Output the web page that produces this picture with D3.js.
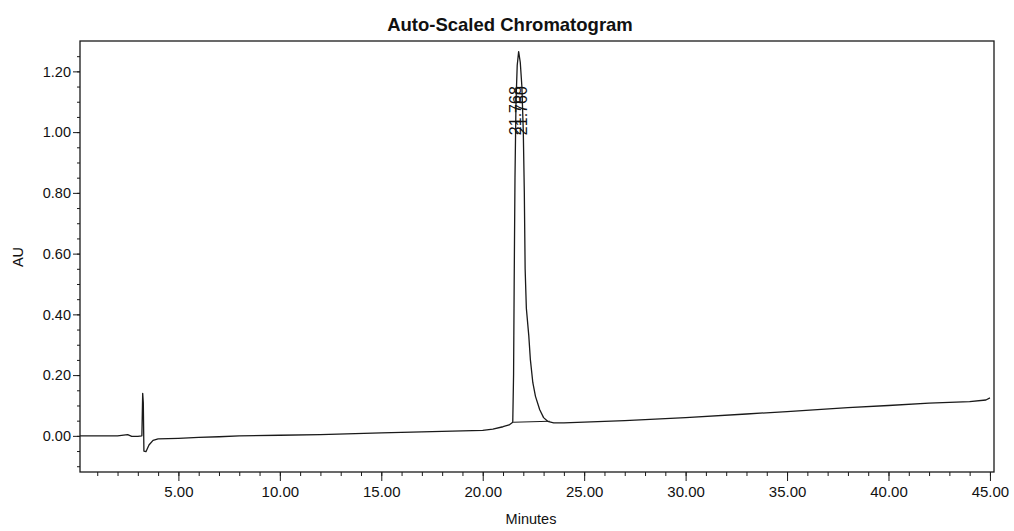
<!DOCTYPE html>
<html>
<head>
<meta charset="utf-8">
<script src="https://cdn.jsdelivr.net/npm/d3@7"></script>
<style>
  html, body { margin: 0; padding: 0; background: #fff; }
  svg { display: block; }
  text { font-family: "Liberation Sans", Arial, sans-serif; fill: #111; }
</style>
</head>
<body>
<svg id="chart" width="1014" height="531"></svg>
<script>
// ---- data ----
const title = "Auto-Scaled Chromatogram";
const xLabel = "Minutes";
const yLabel = "AU";
const xTickValues = [5, 10, 15, 20, 25, 30, 35, 40, 45];
const yTickValues = [0, 0.2, 0.4, 0.6, 0.8, 1.0, 1.2];
const timeMin = [0.15, 1.0, 2.0, 2.5, 2.7, 3.0, 3.2, 3.24, 3.27, 3.30, 3.40, 3.55, 3.75, 4.0, 5.0, 6.0, 7.0, 8.0, 10.0, 12.0, 15.0, 18.0, 20.0, 20.5, 21.0, 21.3, 21.48,
  21.52, 21.55, 21.59, 21.64, 21.70, 21.77, 21.85, 21.93, 22.0, 22.05, 22.09, 22.15, 22.27, 22.35, 22.47, 22.6, 22.81, 23.0, 23.2, 23.5, 24.0, 25.0,
  27.0, 30.0, 33.0, 35.0, 38.0, 40.0, 42.0, 44.0, 44.8, 45.0];
const absorbance = [0.000, 0.000, 0.000, 0.004, -0.002, -0.002, 0.000, 0.140, 0.110, -0.050, -0.052, -0.030, -0.015, -0.010, -0.008, -0.005, -0.003, 0.000, 0.002, 0.004, 0.010, 0.015, 0.018, 0.022, 0.030, 0.036, 0.045,
  0.20, 0.50, 0.85, 1.10, 1.22, 1.265, 1.23, 1.15, 1.00, 0.80, 0.55, 0.42, 0.33, 0.25, 0.175, 0.13, 0.086, 0.060, 0.048, 0.043, 0.043, 0.045,
  0.050, 0.060, 0.072, 0.080, 0.093, 0.100, 0.108, 0.113, 0.118, 0.125];
const peakNames = ["21.768", "21.760"];
const peakTimes = [21.70, 21.98];
const integStart = [21.50, 0.045];
const integEnd = [23.30, 0.048];

// ---- layout ----
const svg = d3.select("#chart");
const x = d3.scaleLinear().domain([0.15, 45.2]).range([80, 994]);
const y = d3.scaleLinear().domain([-0.119, 1.30]).range([472, 41]);
const ink = "#1a1a1a";

// frame
svg.append("rect")
  .attr("x", x.range()[0]).attr("y", y.range()[1])
  .attr("width", x.range()[1] - x.range()[0])
  .attr("height", y.range()[0] - y.range()[1])
  .attr("fill", "none").attr("stroke", ink).attr("stroke-width", 1.3);

// x axis
const xAxisG = svg.append("g").attr("transform", `translate(0,${y.range()[0]})`);
xAxisG.call(d3.axisBottom(x).tickValues(d3.range(1, 46, 1)).tickSize(4).tickFormat(""))
  .call(g => g.select(".domain").remove());
xAxisG.call(g => g.selectAll(".tick line").attr("stroke", ink));
const xMajor = svg.append("g").attr("transform", `translate(0,${y.range()[0]})`)
  .call(d3.axisBottom(x).tickValues(xTickValues).tickSize(9).tickPadding(5).tickFormat(d3.format(".2f")));
xMajor.select(".domain").remove();
xMajor.selectAll(".tick line").attr("stroke", ink);
xMajor.selectAll("text").attr("font-size", 15).attr("fill", ink)
  .attr("font-family", "Liberation Sans, Arial, sans-serif");

// y axis
const yMinor = svg.append("g").attr("transform", `translate(${x.range()[0]},0)`)
  .call(d3.axisLeft(y).tickValues(d3.range(-0.1, 1.30, 0.05)).tickSize(3).tickFormat(""));
yMinor.select(".domain").remove();
yMinor.selectAll(".tick line").attr("stroke", ink);
const yMajor = svg.append("g").attr("transform", `translate(${x.range()[0]},0)`)
  .call(d3.axisLeft(y).tickValues(yTickValues).tickSize(7).tickPadding(2).tickFormat(d3.format(".2f")));
yMajor.select(".domain").remove();
yMajor.selectAll(".tick line").attr("stroke", ink);
yMajor.selectAll("text").attr("font-size", 14.5).attr("fill", ink)
  .attr("font-family", "Liberation Sans, Arial, sans-serif");

// integration baseline
svg.append("line")
  .attr("x1", x(integStart[0])).attr("y1", y(integStart[1]))
  .attr("x2", x(integEnd[0])).attr("y2", y(integEnd[1]))
  .attr("stroke", ink).attr("stroke-width", 1.1);

// trace
const pts = timeMin.map((t, i) => [t, absorbance[i]]);
svg.append("path")
  .datum(pts)
  .attr("fill", "none").attr("stroke", ink).attr("stroke-width", 1.3)
  .attr("stroke-linejoin", "round")
  .attr("d", d3.line().x(d => x(d[0])).y(d => y(d[1])));

// peak labels
peakNames.forEach((name, i) => {
  const px = x(peakTimes[i]);
  svg.append("text")
    .attr("transform", `translate(${px + 4},${y(0.99)}) rotate(-90)`)
    .attr("font-size", 16).attr("text-anchor", "start")
    .text(name);
});

// titles
svg.append("text").attr("x", 510).attr("y", 31).attr("text-anchor", "middle")
  .attr("font-size", 18.5).attr("font-weight", "bold").text(title);
svg.append("text").attr("x", 531).attr("y", 524).attr("text-anchor", "middle")
  .attr("font-size", 14.5).text(xLabel);
svg.append("text").attr("transform", "translate(23,257) rotate(-90)")
  .attr("text-anchor", "middle").attr("font-size", 14.5).text(yLabel);
</script>
</body>
</html>
